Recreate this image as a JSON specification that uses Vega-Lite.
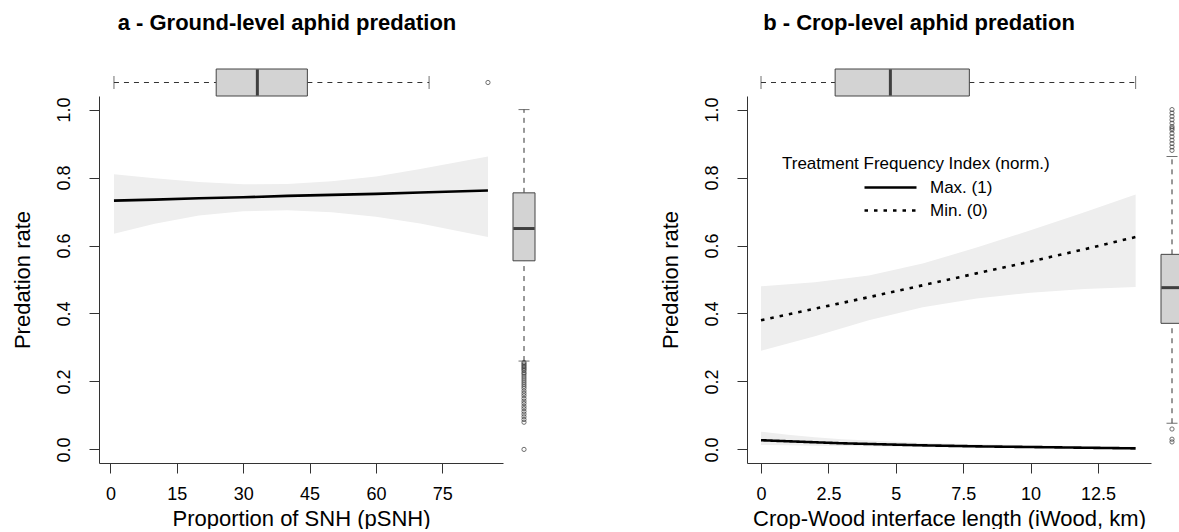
{
  "$schema": "https://vega.github.io/schema/vega-lite/v6.json",
  "padding": {"left": 11, "top": 11, "right": 0, "bottom": 0},
  "config": {
    "font": "Liberation Sans",
    "view": {"stroke": null},
    "axis": {"grid": false, "domainColor": "#333", "tickColor": "#333", "labelColor": "#000", "titleColor": "#000", "labelFont": "Liberation Sans", "titleFont": "Liberation Sans", "labelFontSize": 18, "titleFontSize": 22, "titleFontWeight": "normal", "tickSize": 10, "domainWidth": 1, "tickWidth": 1, "labelFlush": false, "labelOverlap": false},
    "title": {"font": "Liberation Sans", "fontSize": 22, "fontWeight": "bold", "color": "#000"}
  },
  "datasets": {
    "fitA": [
      {"x": 0.8, "fit": 0.732, "lo": 0.635, "hi": 0.810},
      {"x": 10, "fit": 0.735, "lo": 0.664, "hi": 0.798},
      {"x": 20, "fit": 0.739, "lo": 0.688, "hi": 0.787},
      {"x": 30, "fit": 0.742, "lo": 0.701, "hi": 0.780},
      {"x": 40, "fit": 0.746, "lo": 0.704, "hi": 0.781},
      {"x": 50, "fit": 0.749, "lo": 0.698, "hi": 0.789},
      {"x": 60, "fit": 0.752, "lo": 0.685, "hi": 0.803},
      {"x": 70, "fit": 0.756, "lo": 0.665, "hi": 0.825},
      {"x": 85.3, "fit": 0.762, "lo": 0.625, "hi": 0.862}
    ],
    "fitB": [
      {"tfi": "Min. (0)", "x": 0, "fit": 0.380, "lo": 0.290, "hi": 0.480},
      {"tfi": "Min. (0)", "x": 2, "fit": 0.414, "lo": 0.333, "hi": 0.492},
      {"tfi": "Min. (0)", "x": 4, "fit": 0.448, "lo": 0.380, "hi": 0.512},
      {"tfi": "Min. (0)", "x": 6, "fit": 0.483, "lo": 0.418, "hi": 0.547},
      {"tfi": "Min. (0)", "x": 8, "fit": 0.518, "lo": 0.444, "hi": 0.594},
      {"tfi": "Min. (0)", "x": 10, "fit": 0.553, "lo": 0.461, "hi": 0.645},
      {"tfi": "Min. (0)", "x": 12, "fit": 0.589, "lo": 0.472, "hi": 0.698},
      {"tfi": "Min. (0)", "x": 13.9, "fit": 0.625, "lo": 0.478, "hi": 0.750},
      {"tfi": "Max. (1)", "x": 0, "fit": 0.027, "lo": 0.013, "hi": 0.052},
      {"tfi": "Max. (1)", "x": 1, "fit": 0.024, "lo": 0.012, "hi": 0.043},
      {"tfi": "Max. (1)", "x": 2, "fit": 0.021, "lo": 0.011, "hi": 0.036},
      {"tfi": "Max. (1)", "x": 3, "fit": 0.018, "lo": 0.010, "hi": 0.030},
      {"tfi": "Max. (1)", "x": 4, "fit": 0.016, "lo": 0.009, "hi": 0.026},
      {"tfi": "Max. (1)", "x": 6, "fit": 0.012, "lo": 0.007, "hi": 0.019},
      {"tfi": "Max. (1)", "x": 8, "fit": 0.009, "lo": 0.005, "hi": 0.015},
      {"tfi": "Max. (1)", "x": 10, "fit": 0.007, "lo": 0.004, "hi": 0.012},
      {"tfi": "Max. (1)", "x": 12, "fit": 0.005, "lo": 0.003, "hi": 0.009},
      {"tfi": "Max. (1)", "x": 13.9, "fit": 0.003, "lo": 0.001, "hi": 0.008}
    ],
    "boxTopA": [{"var": "pSNH", "q0": 0.8, "q1": 23.9, "med": 33.2, "q3": 44.5, "q4": 72}],
    "outTopA": [{"var": "pSNH", "v": 85.3}],
    "boxTopB": [{"var": "iWood", "q0": 0, "q1": 2.75, "med": 4.8, "q3": 7.73, "q4": 13.9}],
    "boxRightA": [{"var": "rate", "q0": 0.26, "q1": 0.555, "med": 0.65, "q3": 0.755, "q4": 1.0}],
    "outRightA": [
      {"var": "rate", "v": 0.256}, {"var": "rate", "v": 0.252}, {"var": "rate", "v": 0.248}, {"var": "rate", "v": 0.244},
      {"var": "rate", "v": 0.24}, {"var": "rate", "v": 0.236}, {"var": "rate", "v": 0.232}, {"var": "rate", "v": 0.226},
      {"var": "rate", "v": 0.222}, {"var": "rate", "v": 0.216}, {"var": "rate", "v": 0.21}, {"var": "rate", "v": 0.204},
      {"var": "rate", "v": 0.198}, {"var": "rate", "v": 0.192}, {"var": "rate", "v": 0.186}, {"var": "rate", "v": 0.18},
      {"var": "rate", "v": 0.172}, {"var": "rate", "v": 0.165}, {"var": "rate", "v": 0.158}, {"var": "rate", "v": 0.15},
      {"var": "rate", "v": 0.142}, {"var": "rate", "v": 0.135}, {"var": "rate", "v": 0.127}, {"var": "rate", "v": 0.12},
      {"var": "rate", "v": 0.112}, {"var": "rate", "v": 0.104}, {"var": "rate", "v": 0.096}, {"var": "rate", "v": 0.088},
      {"var": "rate", "v": 0.08}, {"var": "rate", "v": 0.0}
    ],
    "boxRightB": [{"var": "rate", "q0": 0.077, "q1": 0.371, "med": 0.476, "q3": 0.574, "q4": 0.862}],
    "outRightB": [
      {"var": "rate", "v": 0.88}, {"var": "rate", "v": 0.89}, {"var": "rate", "v": 0.9}, {"var": "rate", "v": 0.91},
      {"var": "rate", "v": 0.92}, {"var": "rate", "v": 0.93}, {"var": "rate", "v": 0.94}, {"var": "rate", "v": 0.945},
      {"var": "rate", "v": 0.95}, {"var": "rate", "v": 0.96}, {"var": "rate", "v": 0.97}, {"var": "rate", "v": 0.98},
      {"var": "rate", "v": 0.99}, {"var": "rate", "v": 1.0}, {"var": "rate", "v": 0.06}, {"var": "rate", "v": 0.03},
      {"var": "rate", "v": 0.022}
    ]
  },
  "spacing": 123,
  "resolve": {"scale": {"strokeDash": "independent"}, "legend": {"strokeDash": "independent"}},
  "hconcat": [
    {
      "title": {"text": "a - Ground-level aphid predation", "anchor": "middle", "frame": "group", "dx": -14, "offset": 34},
      "width": 404,
      "height": 367,
      "resolve": {"scale": {"x": "independent", "y": "independent"}},
      "layer": [
        {
          "layer": [
            {"data": {"name": "fitA"}, "mark": {"type": "area", "color": "#eeeeee"},
             "encoding": {
               "x": {"field": "x", "type": "quantitative", "scale": {"domain": [-2.58, 88.7], "nice": false, "zero": false},
                     "axis": {"values": [0, 15, 30, 45, 60, 75], "title": "Proportion of SNH (pSNH)", "labelPadding": 12, "titlePadding": 5}},
               "y": {"field": "lo", "type": "quantitative", "scale": {"domain": [-0.04, 1.04], "nice": false, "zero": false},
                     "axis": {"values": [0, 0.2, 0.4, 0.6, 0.8, 1.0], "format": ".1f", "labelAngle": -90, "labelAlign": "center", "labelBaseline": "bottom", "labelPadding": 16, "title": "Predation rate", "titlePadding": 21}},
               "y2": {"field": "hi"}}},
            {"data": {"name": "fitA"}, "mark": {"type": "line", "color": "#000", "strokeWidth": 2.6},
             "encoding": {"x": {"field": "x", "type": "quantitative"}, "y": {"field": "fit", "type": "quantitative"}}}
          ]
        },
        {
          "layer": [
            {"data": {"name": "boxTopA"}, "mark": {"type": "rule", "strokeDash": [5, 5], "color": "#333"},
             "encoding": {"x": {"field": "q0", "type": "quantitative", "scale": {"domain": [-2.58, 88.7], "nice": false, "zero": false}, "axis": null},
                          "x2": {"field": "q1"},
                          "y": {"field": "var", "type": "nominal", "axis": null, "scale": {"type": "band", "paddingInner": 0, "paddingOuter": 0, "range": [-27, 0]}}}},
            {"data": {"name": "boxTopA"}, "mark": {"type": "rule", "strokeDash": [5, 5], "color": "#333"},
             "encoding": {"x": {"field": "q3", "type": "quantitative"}, "x2": {"field": "q4"}, "y": {"field": "var", "type": "nominal"}}},
            {"data": {"name": "boxTopA"}, "mark": {"type": "tick", "size": 13, "thickness": 1, "color": "#333"},
             "encoding": {"x": {"field": "q0", "type": "quantitative"}, "y": {"field": "var", "type": "nominal"}}},
            {"data": {"name": "boxTopA"}, "mark": {"type": "tick", "size": 13, "thickness": 1, "color": "#333"},
             "encoding": {"x": {"field": "q4", "type": "quantitative"}, "y": {"field": "var", "type": "nominal"}}},
            {"data": {"name": "boxTopA"}, "mark": {"type": "bar", "fill": "#d3d3d3", "stroke": "#444", "strokeWidth": 1},
             "encoding": {"x": {"field": "q1", "type": "quantitative"}, "x2": {"field": "q3"}, "y": {"field": "var", "type": "nominal"}}},
            {"data": {"name": "boxTopA"}, "mark": {"type": "tick", "size": 26, "thickness": 3, "color": "#000"},
             "encoding": {"x": {"field": "med", "type": "quantitative"}, "y": {"field": "var", "type": "nominal"}}},
            {"data": {"name": "outTopA"}, "mark": {"type": "point", "shape": "circle", "filled": false, "size": 18, "strokeWidth": 1, "color": "#333"},
             "encoding": {"x": {"field": "v", "type": "quantitative"}, "y": {"field": "var", "type": "nominal"}}}
          ]
        },
        {
          "layer": [
            {"data": {"name": "boxRightA"}, "mark": {"type": "rule", "strokeDash": [5, 5], "color": "#333"},
             "encoding": {"y": {"field": "q0", "type": "quantitative", "scale": {"domain": [-0.04, 1.04], "nice": false, "zero": false}, "axis": null},
                          "y2": {"field": "q1"},
                          "x": {"field": "var", "type": "nominal", "axis": null, "scale": {"type": "band", "paddingInner": 0, "paddingOuter": 0, "range": [414, 436]}}}},
            {"data": {"name": "boxRightA"}, "mark": {"type": "rule", "strokeDash": [5, 5], "color": "#333"},
             "encoding": {"y": {"field": "q3", "type": "quantitative"}, "y2": {"field": "q4"}, "x": {"field": "var", "type": "nominal"}}},
            {"data": {"name": "boxRightA"}, "mark": {"type": "tick", "size": 11, "thickness": 1, "color": "#333"},
             "encoding": {"y": {"field": "q0", "type": "quantitative"}, "x": {"field": "var", "type": "nominal"}}},
            {"data": {"name": "boxRightA"}, "mark": {"type": "tick", "size": 11, "thickness": 1, "color": "#333"},
             "encoding": {"y": {"field": "q4", "type": "quantitative"}, "x": {"field": "var", "type": "nominal"}}},
            {"data": {"name": "boxRightA"}, "mark": {"type": "bar", "fill": "#d3d3d3", "stroke": "#444", "strokeWidth": 1},
             "encoding": {"y": {"field": "q1", "type": "quantitative"}, "y2": {"field": "q3"}, "x": {"field": "var", "type": "nominal"}}},
            {"data": {"name": "boxRightA"}, "mark": {"type": "tick", "size": 21, "thickness": 3, "color": "#000"},
             "encoding": {"y": {"field": "med", "type": "quantitative"}, "x": {"field": "var", "type": "nominal"}}},
            {"data": {"name": "outRightA"}, "mark": {"type": "point", "shape": "circle", "filled": false, "size": 18, "strokeWidth": 1, "color": "#333"},
             "encoding": {"y": {"field": "v", "type": "quantitative"}, "x": {"field": "var", "type": "nominal"}}}
          ]
        }
      ]
    },
    {
      "title": {"text": "b - Crop-level aphid predation", "anchor": "middle", "frame": "group", "dx": -30, "offset": 34},
      "width": 404,
      "height": 367,
      "resolve": {"scale": {"x": "independent", "y": "independent"}},
      "layer": [
        {
          "layer": [
            {"data": {"name": "fitB"}, "mark": {"type": "area", "color": "#eeeeee"},
             "encoding": {
               "x": {"field": "x", "type": "quantitative", "scale": {"domain": [-0.52, 14.47], "nice": false, "zero": false},
                     "axis": {"values": [0, 2.5, 5, 7.5, 10, 12.5], "format": ".3~g", "title": "Crop-Wood interface length (iWood, km)", "labelPadding": 12, "titlePadding": 5}},
               "y": {"field": "lo", "type": "quantitative", "scale": {"domain": [-0.04, 1.04], "nice": false, "zero": false},
                     "axis": {"values": [0, 0.2, 0.4, 0.6, 0.8, 1.0], "format": ".1f", "labelAngle": -90, "labelAlign": "center", "labelBaseline": "bottom", "labelPadding": 16, "title": "Predation rate", "titlePadding": 21}},
               "y2": {"field": "hi"},
               "detail": {"field": "tfi", "type": "nominal"}}},
            {"data": {"name": "fitB"}, "mark": {"type": "line", "color": "#000", "strokeWidth": 2.6},
             "encoding": {
               "x": {"field": "x", "type": "quantitative"},
               "y": {"field": "fit", "type": "quantitative"},
               "strokeDash": {"field": "tfi", "type": "nominal",
                 "scale": {"domain": ["Max. (1)", "Min. (0)"], "range": [[1, 0], [3.5, 6]]},
                 "legend": {"orient": "none", "legendX": 35, "legendY": 60, "padding": 0,
                   "title": "Treatment Frequency Index (norm.)", "titleFont": "Liberation Sans", "titleFontSize": 17, "titleFontWeight": "normal", "titleColor": "#000", "titlePadding": 6, "titleLimit": 500,
                   "labelFont": "Liberation Sans", "labelFontSize": 17, "labelColor": "#000", "labelOffset": 31,
                   "symbolType": "M-4,0H4", "symbolSize": 169, "symbolStrokeWidth": 2.5, "symbolStrokeColor": "#000", "symbolFillColor": "transparent", "symbolOffset": 100, "rowPadding": 5}}}}
          ]
        },
        {
          "layer": [
            {"data": {"name": "boxTopB"}, "mark": {"type": "rule", "strokeDash": [5, 5], "color": "#333"},
             "encoding": {"x": {"field": "q0", "type": "quantitative", "scale": {"domain": [-0.52, 14.47], "nice": false, "zero": false}, "axis": null},
                          "x2": {"field": "q1"},
                          "y": {"field": "var", "type": "nominal", "axis": null, "scale": {"type": "band", "paddingInner": 0, "paddingOuter": 0, "range": [-27, 0]}}}},
            {"data": {"name": "boxTopB"}, "mark": {"type": "rule", "strokeDash": [5, 5], "color": "#333"},
             "encoding": {"x": {"field": "q3", "type": "quantitative"}, "x2": {"field": "q4"}, "y": {"field": "var", "type": "nominal"}}},
            {"data": {"name": "boxTopB"}, "mark": {"type": "tick", "size": 13, "thickness": 1, "color": "#333"},
             "encoding": {"x": {"field": "q0", "type": "quantitative"}, "y": {"field": "var", "type": "nominal"}}},
            {"data": {"name": "boxTopB"}, "mark": {"type": "tick", "size": 13, "thickness": 1, "color": "#333"},
             "encoding": {"x": {"field": "q4", "type": "quantitative"}, "y": {"field": "var", "type": "nominal"}}},
            {"data": {"name": "boxTopB"}, "mark": {"type": "bar", "fill": "#d3d3d3", "stroke": "#444", "strokeWidth": 1},
             "encoding": {"x": {"field": "q1", "type": "quantitative"}, "x2": {"field": "q3"}, "y": {"field": "var", "type": "nominal"}}},
            {"data": {"name": "boxTopB"}, "mark": {"type": "tick", "size": 26, "thickness": 3, "color": "#000"},
             "encoding": {"x": {"field": "med", "type": "quantitative"}, "y": {"field": "var", "type": "nominal"}}}
          ]
        },
        {
          "layer": [
            {"data": {"name": "boxRightB"}, "mark": {"type": "rule", "strokeDash": [5, 5], "color": "#333"},
             "encoding": {"y": {"field": "q0", "type": "quantitative", "scale": {"domain": [-0.04, 1.04], "nice": false, "zero": false}, "axis": null},
                          "y2": {"field": "q1"},
                          "x": {"field": "var", "type": "nominal", "axis": null, "scale": {"type": "band", "paddingInner": 0, "paddingOuter": 0, "range": [414, 436]}}}},
            {"data": {"name": "boxRightB"}, "mark": {"type": "rule", "strokeDash": [5, 5], "color": "#333"},
             "encoding": {"y": {"field": "q3", "type": "quantitative"}, "y2": {"field": "q4"}, "x": {"field": "var", "type": "nominal"}}},
            {"data": {"name": "boxRightB"}, "mark": {"type": "tick", "size": 11, "thickness": 1, "color": "#333"},
             "encoding": {"y": {"field": "q0", "type": "quantitative"}, "x": {"field": "var", "type": "nominal"}}},
            {"data": {"name": "boxRightB"}, "mark": {"type": "tick", "size": 11, "thickness": 1, "color": "#333"},
             "encoding": {"y": {"field": "q4", "type": "quantitative"}, "x": {"field": "var", "type": "nominal"}}},
            {"data": {"name": "boxRightB"}, "mark": {"type": "bar", "fill": "#d3d3d3", "stroke": "#444", "strokeWidth": 1},
             "encoding": {"y": {"field": "q1", "type": "quantitative"}, "y2": {"field": "q3"}, "x": {"field": "var", "type": "nominal"}}},
            {"data": {"name": "boxRightB"}, "mark": {"type": "tick", "size": 21, "thickness": 3, "color": "#000"},
             "encoding": {"y": {"field": "med", "type": "quantitative"}, "x": {"field": "var", "type": "nominal"}}},
            {"data": {"name": "outRightB"}, "mark": {"type": "point", "shape": "circle", "filled": false, "size": 18, "strokeWidth": 1, "color": "#333"},
             "encoding": {"y": {"field": "v", "type": "quantitative"}, "x": {"field": "var", "type": "nominal"}}}
          ]
        }
      ]
    }
  ]
}
